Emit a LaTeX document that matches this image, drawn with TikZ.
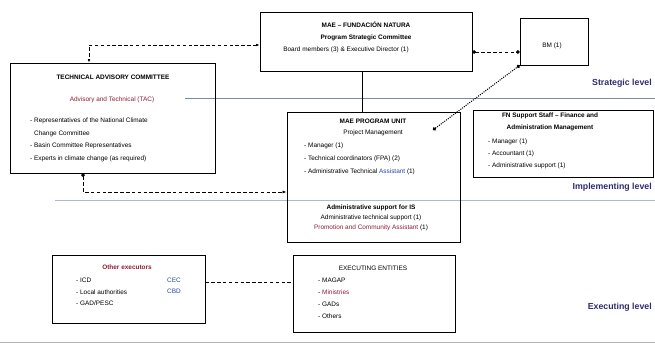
\documentclass[tikz,border=0pt]{standalone}
\usepackage{fontspec}
\setmainfont{Liberation Sans}
\usetikzlibrary{positioning,fit,calc,arrows.meta}
\definecolor{levelblue}{RGB}{45,45,110}
\definecolor{levelgray}{RGB}{120,140,170}
\definecolor{notered}{RGB}{140,30,50}
\definecolor{noteblue}{RGB}{40,70,160}
\tikzset{
  unitbox/.style={draw, line width=0.6pt, inner sep=0pt},
  boxtitle/.style={font=\fontsize{5.5}{10}\selectfont\bfseries, align=center, inner sep=0pt},
  boxtext/.style={font=\fontsize{5.5}{10.5}\selectfont, align=left, anchor=west, inner sep=0pt},
  levellabel/.style={font=\fontsize{7.5}{9}\selectfont\bfseries, text=levelblue, anchor=east, inner sep=0pt},
  levelline/.style={line width=0.5pt, levelgray},
  dashlink/.style={densely dashed, line width=0.7pt},
  dotlink/.style={densely dotted, line width=0.9pt, {Circle[length=3pt]}-{Circle[length=3pt]}},
  solidlink/.style={line width=0.5pt}
}
\begin{document}
\begin{tikzpicture}[x=0.03cm, y=-0.03cm]
  \useasboundingbox (0,0) rectangle (655,344);

  % level lines
  \coordinate (stratL) at (185,98);
  \coordinate (stratR) at (655,98);
  \coordinate (implL) at (55,200);
  \coordinate (implR) at (655,200);
  \coordinate (execL) at (0,342);
  \coordinate (execR) at (655,342);
  \draw[levelline] (stratL) -- (stratR);
  \draw[levelline, levelgray!60] (implL) -- (implR);
  \draw[levelline, gray!60] (execL) -- (execR);
  \node[levellabel] (lvlStrat) at (652,83) {Strategic level};
  \node[levellabel] (lvlImpl) at (652,187) {Implementing level};
  \node[levellabel] (lvlExec) at (652,307) {Executing level};

  % strategic committee
  \node[unitbox, fit={(260,12) (472,71)}] (strat) {};
  \node[boxtitle] (stratT) at (366,31) {MAE -- FUNDACIÓN NATURA\\Program Strategic Committee};
  \node[boxtext, anchor=center] (stratM) at (346,50) {Board members (3) \& Executive Director (1)};

  \node[unitbox, fit={(520,18) (588,65)}] (bm) {};
  \node[boxtext, anchor=center] (bmT) at (552,46) {BM (1)};

  % technical advisory committee
  \node[unitbox, fit={(10,63) (215,173)}] (tac) {};
  \node[boxtitle] (tacT) at (113,77) {TECHNICAL ADVISORY COMMITTEE};
  \node[boxtext, anchor=center, text=notered] (tacS) at (112,100) {Advisory and Technical (TAC)};
  \node[boxtext, font=\fontsize{5.5}{10.8}\selectfont] (tacL) at (30,140) {- Representatives of the National Climate\\
    \phantom{- }Change Committee\\
    - Basin Committee Representatives\\
    - Experts in climate change (as required)};

  % program unit
  \node[unitbox, fit={(287,112) (460,242)}] (pu) {};
  \node[boxtitle] (puT) at (373,127.5) {MAE PROGRAM UNIT\\[-1pt]\mdseries Project Management};
  \node[boxtext, font=\fontsize{5.5}{11}\selectfont] (puL) at (304,159) {- Manager (1)\\
    - Technical coordinators (FPA) (2)\\
    - Administrative Technical \textcolor{noteblue}{Assistant} (1)};
  \node[boxtitle, font=\fontsize{5.5}{8.5}\selectfont] (puA) at (371,218) {\bfseries Administrative support for IS\\
    \mdseries Administrative technical support (1)\\
    \mdseries\textcolor{notered}{Promotion and Community Assistant} (1)};

  % support staff
  \node[unitbox, fit={(473,110) (653,177)}] (fn) {};
  \node[boxtitle] (fnT) at (550,122) {FN Support Staff -- Finance and\\Administration Management};
  \node[boxtext, font=\fontsize{5.5}{10.2}\selectfont] (fnL) at (488,154) {- Manager (1)\\
    - Accountant (1)\\
    - Administrative support (1)};

  % executors
  \node[unitbox, fit={(52,255) (205,323)}] (others) {};
  \node[boxtitle, text=notered] (othT) at (127,267) {Other executors};
  \node[boxtext, font=\fontsize{5.5}{9.8}\selectfont] (othL) at (76,292) {- ICD\\
    - Local authorities\\
    - GAD/PESC};
  \node[boxtext, font=\fontsize{5.5}{9.8}\selectfont, text=noteblue] (othR) at (167,286) {CEC\\CBD};

  \node[unitbox, fit={(293,255) (455,332)}] (exec) {};
  \node[boxtitle, font=\fontsize{5.5}{8}\selectfont\mdseries] (exeT) at (373,268) {EXECUTING ENTITIES};
  \node[boxtext, font=\fontsize{5.5}{10.2}\selectfont] (exeL) at (318,298) {- MAGAP\\
    - \textcolor{notered}{Ministries}\\
    - GADs\\
    - Others};

  % connectors
  \draw[solidlink] ($(strat.south)+(-4,0)$) -- ($(pu.north)+(-11.5,0)$);
  \draw[dashlink, {Circle[length=3pt]}-{Circle[length=3pt]}] ($(strat.east)+(0,10.5)$) -- ($(bm.west)+(0,10.5)$);
  \draw[dashlink, {Latex[length=3pt]}-{Latex[length=3pt]}] ($(strat.west)+(0,3.5)$) -| ($(tac.north)+(-23.5,0)$);
  \draw[dashlink, {Circle[length=3pt]}-{Latex[length=3.5pt]}] ($(tac.south)+(-29.5,0)$) |- ($(pu.west)+(0,15)$);
  \coordinate (puDot) at (433,130);
  \draw[dotlink] (puDot) -- (bm.south west);
  \draw[dashlink] ($(others.east)+(0,-7)$) -- ($(exec.west)+(0,-11.5)$);
\end{tikzpicture}
\end{document}
